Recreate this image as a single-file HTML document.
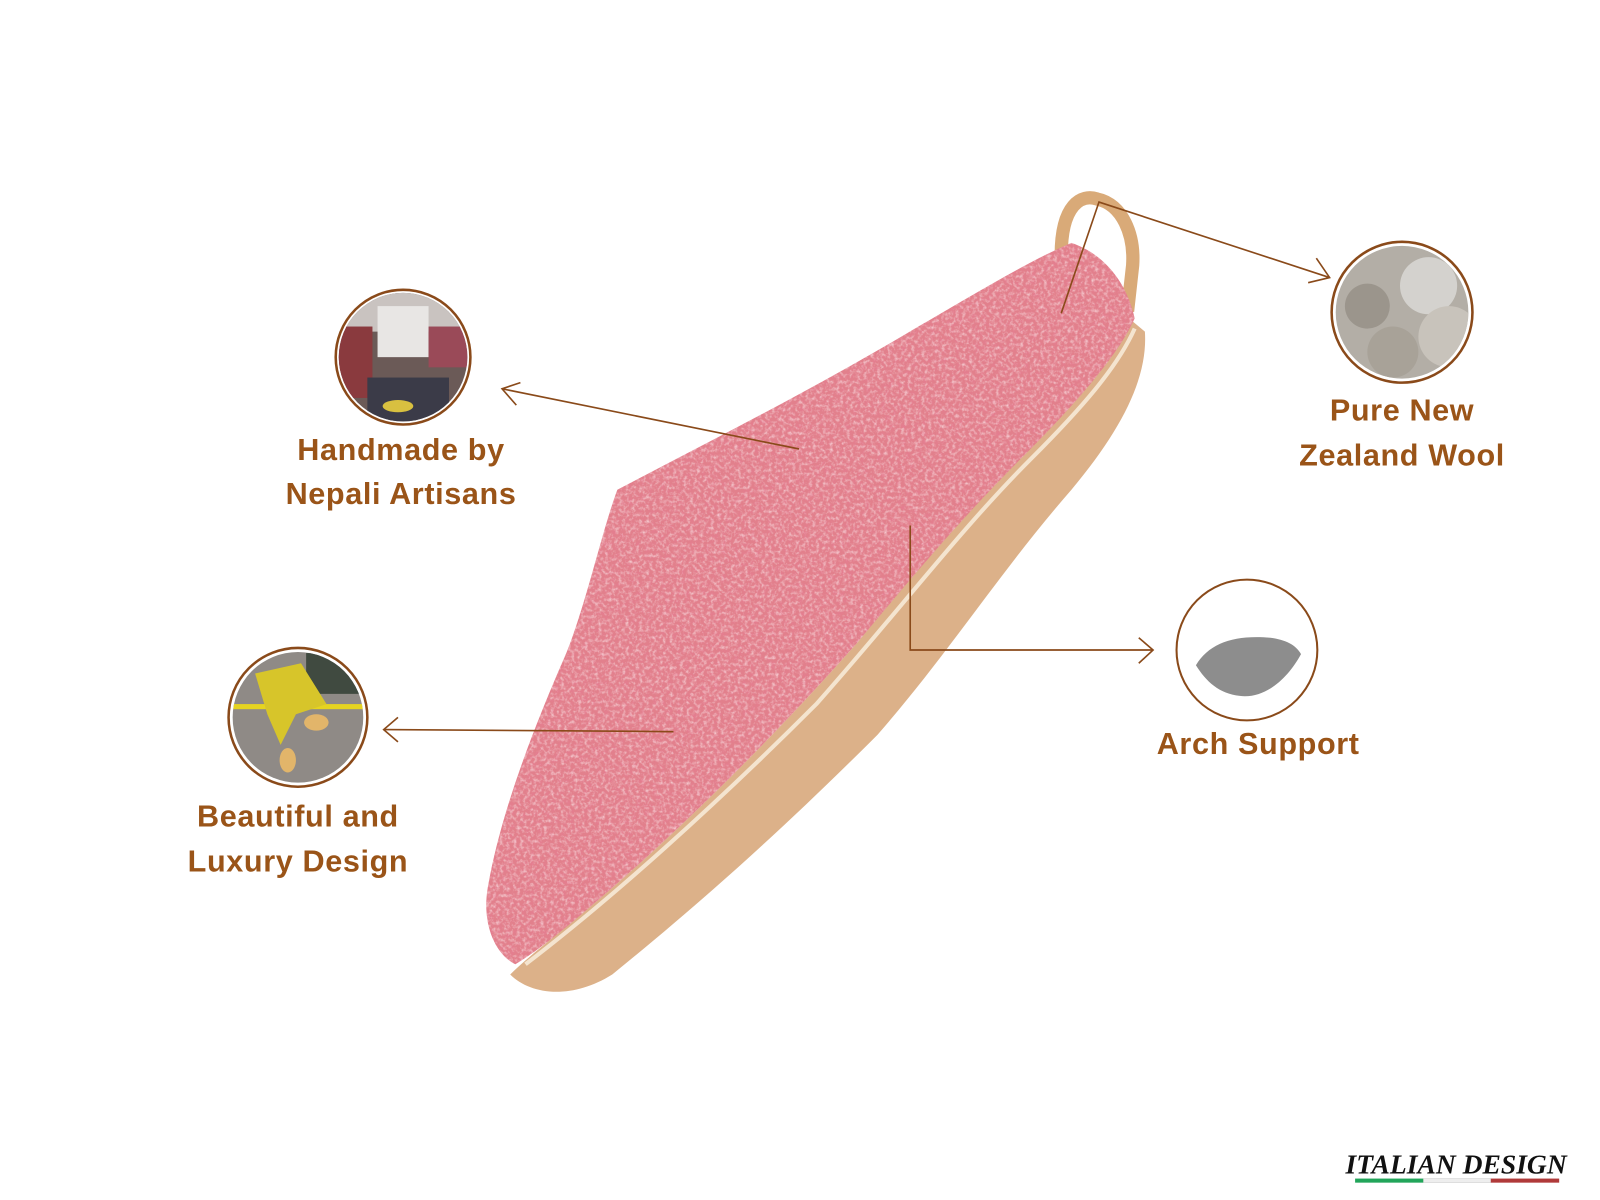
<!DOCTYPE html>
<html><head><meta charset="utf-8"><style>
html,body{margin:0;padding:0;background:#fff;}
svg{display:block;}
text{font-family:"Liberation Sans",sans-serif;font-weight:bold;fill:#9a5418;}
</style></head><body>
<svg width="1600" height="1200" viewBox="0 0 1568 1176" xmlns="http://www.w3.org/2000/svg">
<defs>
<clipPath id="c1"><circle cx="395" cy="350" r="63"/></clipPath>
<clipPath id="c2"><circle cx="292" cy="703" r="64"/></clipPath>
<clipPath id="c4"><circle cx="1374" cy="306" r="65"/></clipPath>
<filter id="n"><feTurbulence type="fractalNoise" baseFrequency="0.3" numOctaves="3" seed="3"/><feColorMatrix values="0 0 0 0 1  0 0 0 0 0.92  0 0 0 0 0.93  0 0 0 1.6 -0.7"/><feComposite in2="SourceGraphic" operator="in"/></filter>
<filter id="d"><feTurbulence type="fractalNoise" baseFrequency="0.25" numOctaves="3" seed="9"/><feColorMatrix values="0 0 0 0 0.8  0 0 0 0 0.2  0 0 0 0 0.3  0 0 0 1.6 -0.75"/><feComposite in2="SourceGraphic" operator="in"/></filter>
</defs>

<path d="M1040 250 C1040 200 1060 190 1075 195 C1100 200 1112 230 1110 260 L1105 305" fill="none" stroke="#d9aa78" stroke-width="13"/>

<path d="M500 955 C520 975 560 980 600 955 C680 890 760 820 860 720 C930 640 980 560 1050 480 C1100 420 1125 370 1122 325 L1110 315 C1080 360 1040 400 990 450 C930 510 890 570 840 630 C760 720 680 800 600 870 C560 905 520 935 500 955 Z" fill="#dcb189"/>
<path d="M515 945 C600 880 700 790 800 690 C880 600 940 520 1010 450 C1060 400 1095 360 1112 322" fill="none" stroke="#f4e4cf" stroke-width="4"/>

<path id="felt" d="M605 480 C700 430 800 380 900 320 C960 285 1010 255 1050 238 C1085 250 1105 280 1112 312 C1095 350 1050 400 1000 450 C940 510 890 570 840 630 C760 720 680 800 600 870 C560 905 530 930 505 945 C485 935 472 905 478 870 C490 800 520 720 555 640 C575 590 590 520 605 480 Z" fill="#e2808c"/>
<path d="M605 480 C700 430 800 380 900 320 C960 285 1010 255 1050 238 C1085 250 1105 280 1112 312 C1095 350 1050 400 1000 450 C940 510 890 570 840 630 C760 720 680 800 600 870 C560 905 530 930 505 945 C485 935 472 905 478 870 C490 800 520 720 555 640 C575 590 590 520 605 480 Z" fill="#d04060" filter="url(#d)" opacity="0.8"/>
<path d="M605 480 C700 430 800 380 900 320 C960 285 1010 255 1050 238 C1085 250 1105 280 1112 312 C1095 350 1050 400 1000 450 C940 510 890 570 840 630 C760 720 680 800 600 870 C560 905 530 930 505 945 C485 935 472 905 478 870 C490 800 520 720 555 640 C575 590 590 520 605 480 Z" fill="#f6c8cc" filter="url(#n)" opacity="0.8"/>

<g stroke="#8a4a1a" stroke-width="1.6" fill="none">
<line x1="783" y1="440" x2="492" y2="381"/>
<polyline points="510,375 492,381 506,397"/>
<line x1="660" y1="717" x2="376" y2="715"/>
<polyline points="390,703 376,715 390,727"/>
<polyline points="892,515 892,637 1130,637"/>
<polyline points="1116,625 1130,637 1116,650"/>
<polyline points="1040,307 1077,198 1303,272"/>
<polyline points="1290,253 1303,272 1282,277"/>
</g>

<g clip-path="url(#c1)">
<rect x="330" y="285" width="130" height="130" fill="#6b5a57"/>
<rect x="330" y="285" width="130" height="40" fill="#c9c3c0"/>
<rect x="370" y="300" width="50" height="50" fill="#e8e6e4"/>
<rect x="330" y="320" width="35" height="70" fill="#8a3a3e"/>
<rect x="420" y="320" width="40" height="40" fill="#9a4a58"/>
<rect x="360" y="370" width="80" height="45" fill="#3b3b48"/>
<ellipse cx="390" cy="398" rx="15" ry="6" fill="#d8c040"/>
</g>
<circle cx="395" cy="350" r="66" fill="none" stroke="#8a4a1a" stroke-width="2.5"/>

<g clip-path="url(#c2)">
<rect x="225" y="635" width="135" height="135" fill="#8f8a86"/>
<rect x="300" y="640" width="60" height="40" fill="#404a40"/>
<rect x="225" y="690" width="135" height="5" fill="#e6d420"/>
<path d="M250 660 L295 650 L320 690 L290 700 L275 730 L262 700 Z" fill="#d7c52a"/>
<ellipse cx="310" cy="708" rx="12" ry="8" fill="#e2b56a"/>
<ellipse cx="282" cy="745" rx="8" ry="12" fill="#e2b56a"/>
</g>
<circle cx="292" cy="703" r="68" fill="none" stroke="#8a4a1a" stroke-width="2.5"/>

<circle cx="1222" cy="637" r="69" fill="#fff" stroke="#8a4a1a" stroke-width="2"/>
<path d="M1172 652 C1185 630 1210 622 1245 625 C1260 627 1270 632 1275 641 C1262 665 1240 685 1215 682 C1195 680 1182 668 1172 652 Z" fill="#8d8d8d"/>

<g clip-path="url(#c4)">
<rect x="1305" y="237" width="140" height="140" fill="#b3aea6"/>
<circle cx="1400" cy="280" r="28" fill="#d4d2ce"/>
<circle cx="1420" cy="330" r="30" fill="#c8c3bb"/>
<circle cx="1340" cy="300" r="22" fill="#9b958c"/>
<circle cx="1365" cy="345" r="25" fill="#a8a298"/>
</g>
<circle cx="1374" cy="306" r="69" fill="none" stroke="#8a4a1a" stroke-width="2.5"/>

<g font-size="30" text-anchor="middle" letter-spacing="0.6">
<text x="393" y="451">Handmade by</text>
<text x="393" y="494">Nepali Artisans</text>
<text x="292" y="810">Beautiful and</text>
<text x="292" y="854">Luxury Design</text>
<text x="1374" y="412">Pure New</text>
<text x="1374" y="456">Zealand Wool</text>
<text x="1233" y="739">Arch Support</text>
</g>

<text x="1427" y="1150" text-anchor="middle" font-size="27" style="font-family:'Liberation Serif',serif;font-style:italic;fill:#111">ITALIAN DESIGN</text>
<rect x="1328" y="1155" width="67" height="4" fill="#22a55a"/>
<rect x="1395" y="1155" width="66" height="4" fill="#eee" stroke="#ccc" stroke-width="0.5"/>
<rect x="1461" y="1155" width="67" height="4" fill="#b03a3a"/>
</svg>
</body></html>
